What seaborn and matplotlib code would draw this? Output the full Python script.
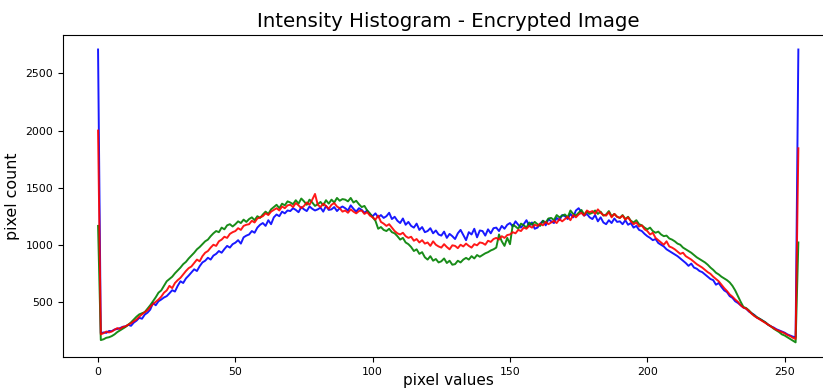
import numpy as np
import pandas as pd
import matplotlib
matplotlib.use("Agg")
import matplotlib.pyplot as plt
import seaborn as sns

blue = [
    2710, 225, 232, 228, 245, 243, 258, 262, 270, 281,
    285, 298, 290, 318, 335, 360, 352, 388, 405, 432,
    490, 470, 505, 520, 538, 550, 575, 602, 590, 640,
    680, 665, 705, 730, 758, 785, 770, 812, 845, 860,
    886, 870, 905, 920, 945, 930, 962, 990, 975, 1005,
    1018, 1040, 1010, 1065, 1080, 1090, 1120, 1105, 1150, 1175,
    1190, 1165, 1215, 1180, 1240, 1265, 1250, 1290, 1275, 1300,
    1295, 1320, 1305, 1285, 1330, 1310, 1295, 1335, 1315, 1300,
    1310, 1325, 1290, 1340, 1305, 1310, 1330, 1295, 1320, 1335,
    1320, 1300, 1345, 1315, 1290, 1320, 1305, 1280, 1300, 1265,
    1250, 1275, 1240, 1260, 1235, 1250, 1280, 1225, 1245, 1210,
    1190, 1230, 1175, 1200, 1165, 1150, 1185, 1130, 1155, 1110,
    1120, 1145, 1100, 1125, 1090, 1080, 1115, 1060, 1095, 1075,
    1050, 1100, 1130, 1085, 1040, 1110, 1090, 1140, 1065, 1125,
    1120, 1080, 1135, 1100, 1145, 1150, 1120, 1165, 1140, 1175,
    1190, 1160, 1205, 1175, 1150, 1180, 1215, 1165, 1195, 1140,
    1150, 1185, 1210, 1170, 1225, 1205, 1190, 1235, 1215, 1260,
    1250, 1225, 1270, 1240, 1300, 1320, 1285, 1255, 1270, 1240,
    1225, 1260, 1205, 1240, 1195, 1180, 1215, 1190, 1230, 1200,
    1205, 1180, 1215, 1175, 1190, 1150, 1165, 1130, 1120, 1095,
    1075, 1060, 1040, 1050, 1015, 1000, 985, 960, 945, 930,
    915, 900, 880, 860, 840, 815, 835, 800, 790, 770,
    760, 740, 720, 700, 690, 650, 665, 630, 600, 585,
    550, 535, 505, 490, 470, 450, 440, 415, 400, 385,
    360, 350, 335, 320, 300, 285, 275, 260, 250, 240,
    230, 215, 205, 195, 190, 2710,
]

green = [
    1165, 165, 172, 185, 190, 200, 215, 235, 250, 265,
    280, 300, 320, 345, 370, 390, 400, 410, 440, 470,
    505, 540, 580, 600, 640, 680, 700, 720, 750, 775,
    800, 830, 850, 880, 905, 930, 960, 980, 1005, 1030,
    1045, 1075, 1100, 1120, 1110, 1150, 1135, 1170, 1180, 1160,
    1180, 1205, 1190, 1220, 1200, 1225, 1240, 1215, 1250, 1235,
    1265, 1290, 1270, 1310, 1330, 1350, 1320, 1360, 1345, 1380,
    1370, 1355, 1390, 1360, 1405, 1380, 1350, 1395, 1370, 1340,
    1355, 1375, 1345, 1390, 1360, 1395, 1370, 1410, 1385, 1400,
    1395, 1380, 1410, 1370, 1385, 1355, 1330, 1340, 1300, 1275,
    1240, 1210, 1140, 1155, 1130, 1120, 1140, 1110, 1100, 1075,
    1045, 1060, 1020, 1005, 980, 945, 960, 920, 935, 890,
    870, 900, 860, 875, 845, 855, 880, 840, 860, 825,
    830, 860, 845, 870, 885, 870, 900, 880, 910, 895,
    910, 925, 935, 950, 960, 975, 1090, 1030, 990, 1060,
    1005, 1175, 1160, 1140, 1185, 1170, 1150, 1195, 1175, 1200,
    1180, 1165, 1210, 1195, 1230, 1235, 1215, 1260, 1240, 1255,
    1265, 1240, 1300, 1270, 1255, 1280, 1305, 1265, 1290, 1270,
    1280, 1300, 1270, 1290, 1255, 1265, 1295, 1250, 1270, 1245,
    1235, 1260, 1225, 1245, 1210, 1195, 1215, 1180, 1170, 1150,
    1135, 1150, 1120, 1105, 1115, 1090, 1075, 1080, 1055, 1045,
    1030, 1010, 1000, 975, 960, 945, 930, 910, 890, 875,
    860, 845, 825, 800, 780, 755, 740, 720, 705, 690,
    670, 640, 600, 550, 500, 455, 445, 425, 400, 380,
    365, 350, 335, 320, 300, 285, 265, 250, 235, 215,
    205, 190, 175, 160, 145, 1020,
]

red = [
    2000, 215, 225, 240, 232, 240, 255, 270, 262, 280,
    285, 300, 312, 330, 345, 370, 390, 410, 425, 455,
    480, 500, 520, 545, 580, 600, 640, 620, 665, 690,
    710, 740, 770, 795, 810, 840, 870, 855, 900, 930,
    945, 975, 1000, 990, 1030, 1045, 1070, 1060, 1095, 1110,
    1120, 1145, 1130, 1165, 1175, 1180, 1210, 1195, 1230, 1240,
    1250, 1275, 1260, 1290, 1305, 1320, 1300, 1335, 1320, 1345,
    1350, 1330, 1365, 1345, 1320, 1340, 1370, 1350, 1395, 1445,
    1350, 1330, 1360, 1340, 1315, 1350, 1365, 1335, 1320, 1290,
    1300, 1280, 1310, 1290, 1275, 1295, 1300, 1270, 1285, 1255,
    1240, 1220, 1255, 1200, 1185, 1165, 1180, 1150, 1120, 1100,
    1090, 1105, 1075, 1060, 1070, 1035, 1050, 1020, 1040, 1010,
    1020, 990, 1030, 1000, 985, 975, 1005, 980, 960, 995,
    990, 970, 1000, 985, 1010, 990, 975, 1005, 995, 1020,
    1015, 1000, 1035, 1025, 1050, 1060, 1045, 1075, 1060, 1085,
    1090, 1110, 1100, 1130, 1120, 1150, 1140, 1165, 1150, 1175,
    1165, 1185, 1170, 1200, 1180, 1195, 1210, 1190, 1225, 1205,
    1225, 1245, 1215, 1260, 1240, 1265, 1280, 1255, 1300, 1285,
    1295, 1270, 1310, 1280, 1260, 1255, 1285, 1240, 1270, 1245,
    1235, 1255, 1220, 1240, 1205, 1180, 1195, 1160, 1170, 1135,
    1120, 1090, 1105, 1060, 1040, 1020, 1000, 1030, 985, 975,
    960, 940, 920, 930, 900, 885, 870, 850, 830, 815,
    800, 780, 760, 745, 720, 700, 680, 650, 620, 595,
    565, 545, 520, 500, 470, 450, 440, 420, 395, 375,
    360, 345, 330, 315, 300, 285, 270, 255, 245, 235,
    225, 210, 200, 185, 175, 1845,
]

channels = ["b", "g", "r"]
series = {"b": blue, "g": green, "r": red}
palette = {"b": "blue", "g": "green", "r": "red"}

frames = []
for ch in channels:
    vals = series[ch]
    frames.append(pd.DataFrame({"pixel": np.arange(len(vals)), "count": vals, "channel": ch}))
df = pd.concat(frames, ignore_index=True)

fig = plt.figure(figsize=(8.23, 3.9), dpi=100)
ax = fig.add_axes([0.0766, 0.0846, 0.936, 0.826])
sns.lineplot(data=df, x="pixel", y="count", hue="channel", palette=palette,
             hue_order=channels, linewidth=1.4, legend=False, ax=ax, alpha=0.9)
ax.margins(x=0.05, y=0.05)
ax.autoscale()
ax.set_xticks([0, 50, 100, 150, 200, 250])
ax.set_yticks([500, 1000, 1500, 2000, 2500])
ax.tick_params(labelsize=7.8)
ax.set_title("Intensity Histogram - Encrypted Image", fontsize=14.2)
ax.set_xlabel("pixel values", fontsize=11, va="top")
ax.xaxis.set_label_coords(0.5, -0.05)
ax.set_ylabel("pixel count", fontsize=11.4)
fig.savefig("out.png", dpi=100)
